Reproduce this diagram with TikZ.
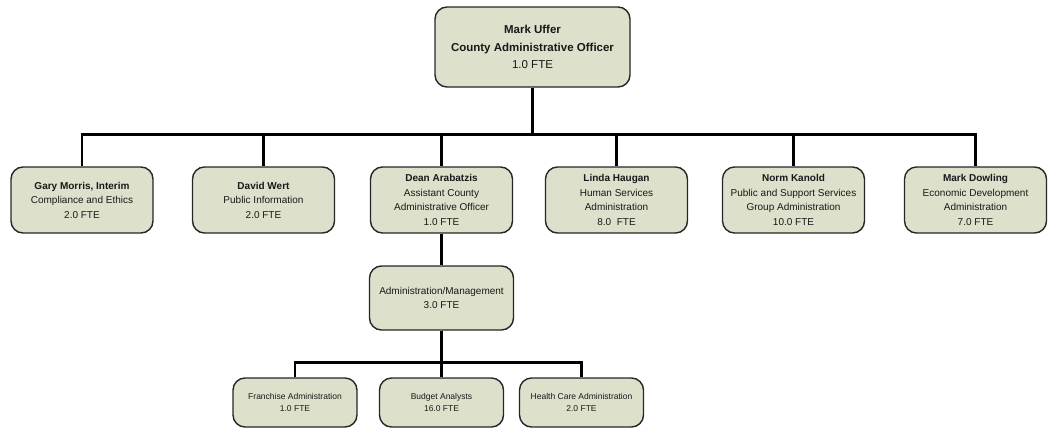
\documentclass[tikz,border=0pt]{standalone}
\usepackage{fontspec}
\setmainfont{Liberation Sans}
\usepackage{tikz}
\definecolor{boxfill}{RGB}{221,224,203}
\definecolor{boxline}{RGB}{38,38,38}

\begin{document}
\begin{tikzpicture}[x=1pt, y=-1pt,
    unit/.style={draw=boxline, line width=1.4pt, fill=boxfill, rounded corners=12pt,
                 align=center, inner sep=0pt, text=black!90},
    head/.style={unit, minimum width=195pt, minimum height=80pt, font=\fontsize{11.5}{17.5}\selectfont},
    dept/.style={unit, minimum width=142pt, minimum height=66pt, font=\fontsize{10}{14.5}\selectfont},
    sub/.style={unit, minimum width=124pt, minimum height=49pt, font=\fontsize{8.5}{12}\selectfont},
    link/.style={line width=2.8pt}]
  \useasboundingbox (0,0) rectangle (1054,434);

  \node[head] (cao)     at (532.5,47)  {\textbf{Mark Uffer}\\\textbf{County Administrative Officer}\\1.0 FTE};

  \node[dept] (gary)    at (82,200)    {\textbf{Gary Morris, Interim}\\Compliance and Ethics\\2.0 FTE};
  \node[dept] (david)   at (263.5,200) {\textbf{David Wert}\\Public Information\\2.0 FTE};
  \node[dept] (dean)    at (441.5,200) {\textbf{Dean Arabatzis}\\Assistant County\\Administrative Officer\\1.0 FTE};
  \node[dept] (linda)   at (616.5,200) {\textbf{Linda Haugan}\\Human Services\\Administration\\8.0\ \ FTE};
  \node[dept] (norm)    at (793.5,200) {\textbf{Norm Kanold}\\Public and Support Services\\Group Administration\\10.0 FTE};
  \node[dept] (dowling) at (975.5,200) {\textbf{Mark Dowling}\\Economic Development\\Administration\\7.0 FTE};

  \node[dept, minimum width=144pt, minimum height=64pt] (admin) at (441.5,298) {Administration/Management\\3.0 FTE};

  \node[sub] (franchise) at (295,402.5)   {Franchise Administration\\1.0 FTE};
  \node[sub] (budget)    at (441.5,402.5) {Budget Analysts\\16.0 FTE};
  \node[sub] (health)    at (581.5,402.5) {Health Care Administration\\2.0 FTE};

  \foreach \n in {gary,david,dean,linda,norm,dowling}
    \draw[link] (cao.south) -- ++(0,47) -| (\n.north);
  \draw[link] (dean.south) -- (admin.north);
  \foreach \n in {franchise,budget,health}
    \draw[link] (admin.south) -- ++(0,32) -| (\n.north);
\end{tikzpicture}
\end{document}
